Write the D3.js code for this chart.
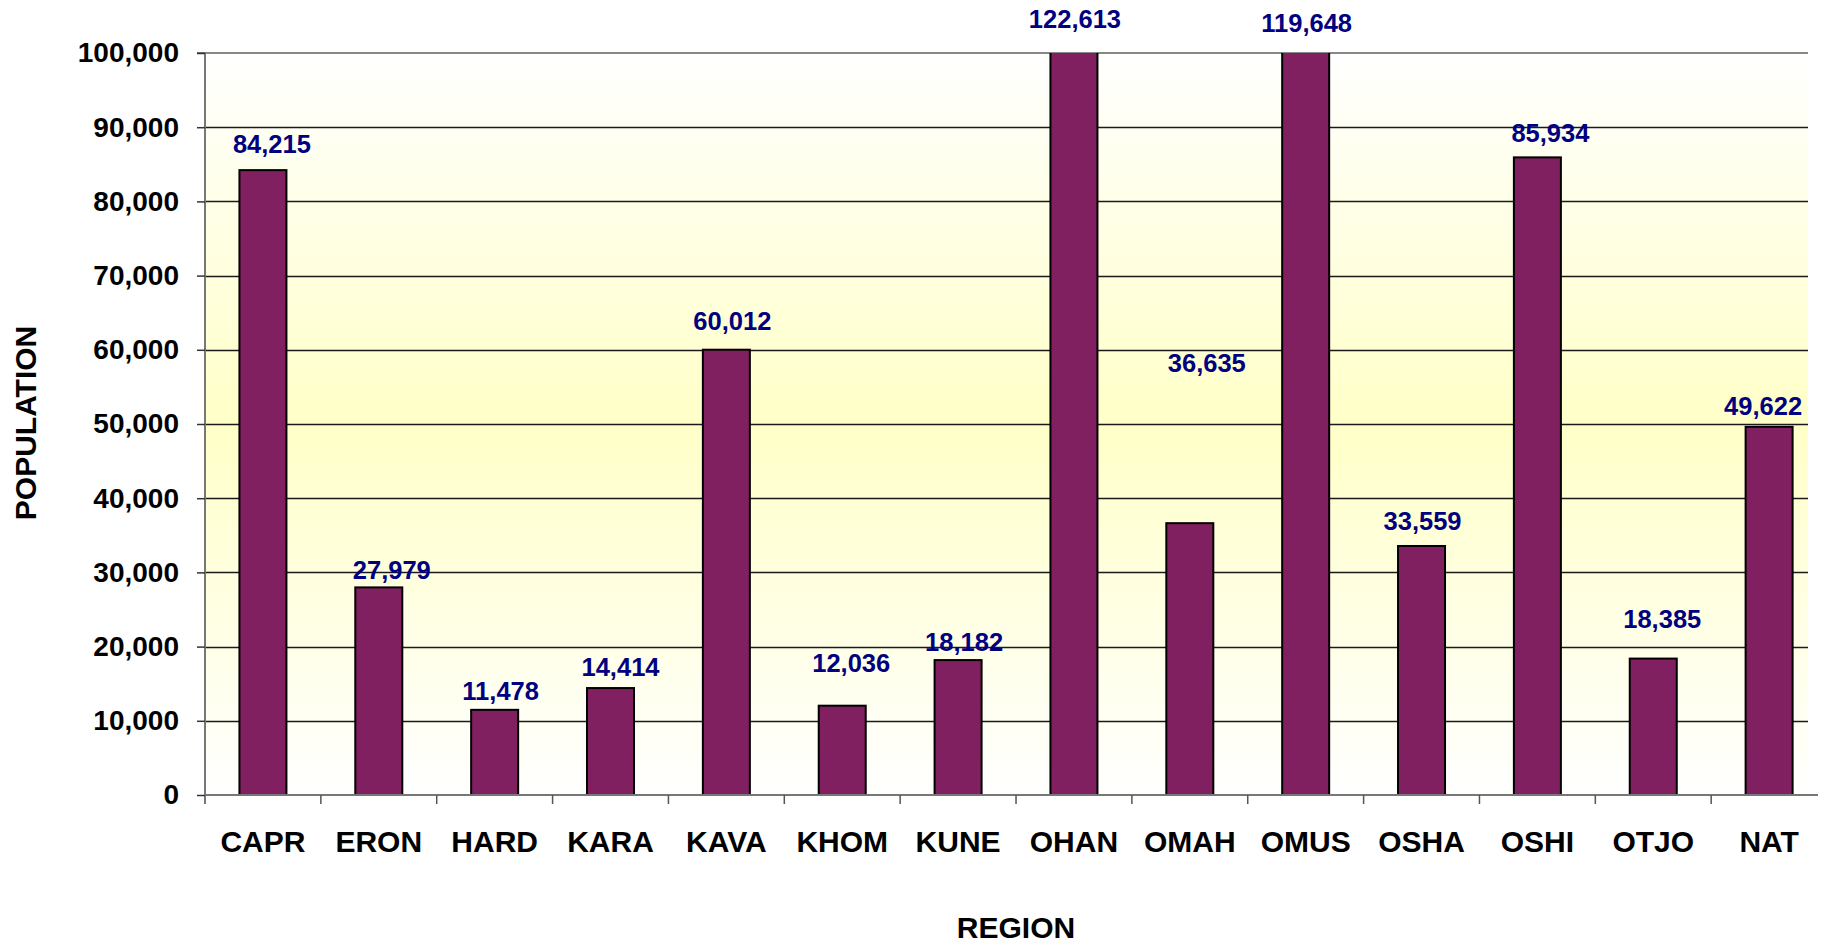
<!DOCTYPE html>
<html>
<head>
<meta charset="utf-8">
<script src="https://cdn.jsdelivr.net/npm/d3@7"></script>
<style>
  html, body { margin: 0; padding: 0; background: #fff; }
  svg { display: block; font-family: "Liberation Sans", Arial, sans-serif; font-weight: bold; }
</style>
</head>
<body>
<svg id="chart" width="1825" height="945"></svg>
<script>
// ---- data ----
const categories = ["CAPR","ERON","HARD","KARA","KAVA","KHOM","KUNE","OHAN","OMAH","OMUS","OSHA","OSHI","OTJO","NAT"];
const population = [84215, 27979, 11478, 14414, 60012, 12036, 18182, 122613, 36635, 119648, 33559, 85934, 18385, 49622];
const yTicks = [0, 10000, 20000, 30000, 40000, 50000, 60000, 70000, 80000, 90000, 100000];
const yMax = 100000;
const xTitle = "REGION";
const yTitle = "POPULATION";

// ---- layout (label nudges, px: [dx from bar centre, dy from bar top]) ----
const labelNudge = [[9,-17],[13,-8],[6,-10],[10,-12],[6,-20],[9,-34],[6,-9],[1,-25],[17,-151],[1,-21],[1,-16],[13,-15],[9,-31],[-6,-12]];

(function () {
const svg = d3.select("#chart");
const pLeft = 205, pTop = 53, pBottom = 795, pRight = 1808;
const band = 115.86;

const x = d3.scaleBand().domain(categories).range([pLeft, pLeft + band * categories.length]).paddingInner(0).paddingOuter(0);
const y = d3.scaleLinear().domain([0, yMax]).range([pBottom, pTop]);
const barW = 47;

// background gradient
const defs = svg.append("defs");
const grad = defs.append("linearGradient").attr("id", "bg").attr("x1", 0).attr("y1", 0).attr("x2", 0).attr("y2", 1);
grad.append("stop").attr("offset", "0%").attr("stop-color", "#ffffff");
grad.append("stop").attr("offset", "50%").attr("stop-color", "#ffffc8");
grad.append("stop").attr("offset", "100%").attr("stop-color", "#ffffff");
defs.append("clipPath").attr("id", "plotclip").append("rect")
  .attr("x", pLeft - 2).attr("y", pTop).attr("width", pRight - pLeft + 4).attr("height", pBottom - pTop + 2);

svg.append("rect").attr("x", pLeft).attr("y", pTop).attr("width", pRight - pLeft).attr("height", pBottom - pTop)
  .attr("fill", "url(#bg)");

// gridlines
svg.append("g").selectAll("line").data(yTicks.filter(d => d > 0 && d < yMax)).join("line")
  .attr("x1", pLeft).attr("x2", pRight)
  .attr("y1", d => Math.round(y(d)) + 0.5).attr("y2", d => Math.round(y(d)) + 0.5)
  .attr("stroke", "#1a1a1a").attr("stroke-width", 1.3);
// top border line
svg.append("line").attr("x1", pLeft).attr("x2", pRight).attr("y1", y(yMax)).attr("y2", y(yMax))
  .attr("stroke", "#888").attr("stroke-width", 2);

// bars
svg.append("g").attr("clip-path", "url(#plotclip)").selectAll("rect").data(categories).join("rect")
  .attr("x", d => x(d) + x.bandwidth() / 2 - barW / 2)
  .attr("width", barW)
  .attr("y", (d, i) => y(Math.min(population[i], yMax * 1.01)))
  .attr("height", (d, i) => pBottom - y(Math.min(population[i], yMax * 1.01)))
  .attr("fill", "#802060").attr("stroke", "#000").attr("stroke-width", 2);

// y axis
const yAxis = d3.axisLeft(y).tickValues(yTicks).tickFormat(d3.format(",")).tickSize(8).tickPadding(18);
const gy = svg.append("g").attr("transform", `translate(${pLeft},0)`).call(yAxis);
gy.select(".domain").attr("stroke", "#777").attr("stroke-width", 2).attr("d", `M-8,${pTop}H0V${pBottom + 9}`);
gy.selectAll(".tick line").attr("stroke", "#333").attr("stroke-width", 1.5);
gy.selectAll(".tick text").attr("font-size", 28).attr("font-family", "'Liberation Sans', Arial, sans-serif")
  .attr("font-weight", "bold").attr("fill", "#000");

// x axis
const xAxis = d3.axisBottom(x).tickSize(0).tickPadding(36);
const gx = svg.append("g").attr("transform", `translate(0,${pBottom})`).call(xAxis);
gx.select(".domain").attr("stroke", "#777").attr("stroke-width", 2).attr("d", `M${pLeft},0H${pRight + 10}`);
gx.selectAll(".tick text").attr("font-size", 30).attr("font-family", "'Liberation Sans', Arial, sans-serif")
  .attr("font-weight", "bold").attr("fill", "#000");
// boundary tick marks between categories
gx.append("g").selectAll("line").data(categories.slice(1)).join("line")
  .attr("x1", d => x(d)).attr("x2", d => x(d)).attr("y1", 0).attr("y2", 9)
  .attr("stroke", "#555").attr("stroke-width", 1.5);

// data labels
svg.append("g").selectAll("text").data(categories).join("text")
  .attr("x", (d, i) => x(d) + x.bandwidth() / 2 + labelNudge[i][0])
  .attr("y", (d, i) => y(Math.min(population[i], yMax)) + labelNudge[i][1])
  .attr("text-anchor", "middle").attr("font-size", 25.5).attr("fill", "#000080")
  .text((d, i) => d3.format(",")(population[i]));

// axis titles
svg.append("text").attr("x", (pLeft + pLeft + band * categories.length) / 2).attr("y", 938)
  .attr("text-anchor", "middle").attr("font-size", 30).attr("fill", "#000").text(xTitle);
svg.append("text").attr("transform", `translate(36,423) rotate(-90)`)
  .attr("text-anchor", "middle").attr("font-size", 30).attr("fill", "#000").text(yTitle);
})();
</script>
</body>
</html>
